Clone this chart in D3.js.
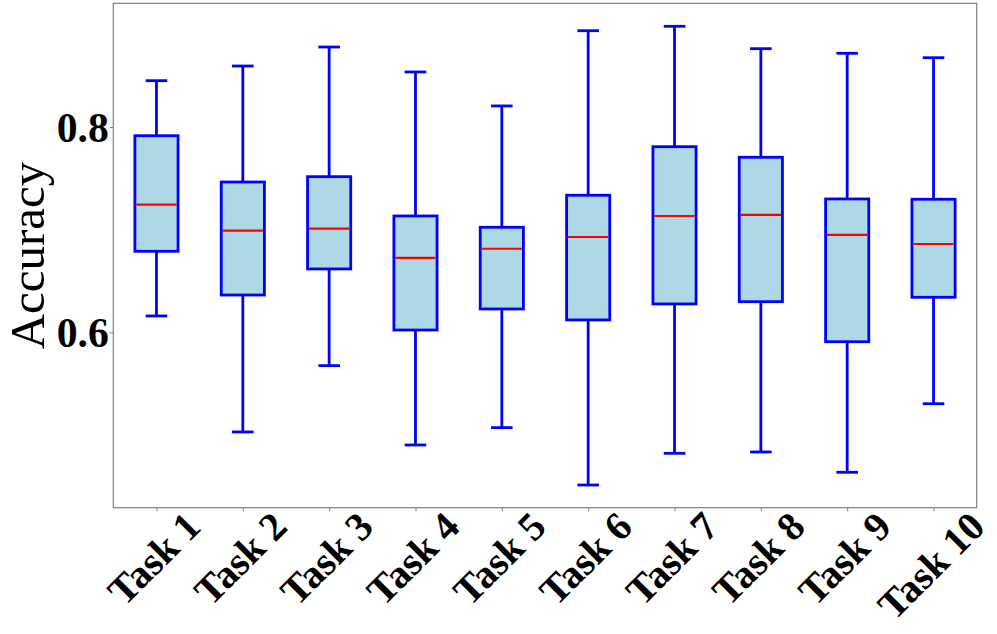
<!DOCTYPE html>
<html>
<head>
<meta charset="utf-8">
<script src="https://cdn.jsdelivr.net/npm/d3@7"></script>
<style>
body{margin:0;background:#fff}
svg{display:block}
</style>
</head>
<body>
<div id="chart"></div>
<script>
const tasks=["Task 1","Task 2","Task 3","Task 4","Task 5","Task 6","Task 7","Task 8","Task 9","Task 10"]
const whiskerLow=[0.6159,0.5029,0.5675,0.4902,0.5071,0.4512,0.4821,0.4834,0.4636,0.5304]
const q1=[0.6789,0.6363,0.6617,0.6022,0.6227,0.6120,0.6276,0.6298,0.5908,0.6341]
const medians=[0.7243,0.6990,0.7009,0.6724,0.6814,0.6928,0.7133,0.7143,0.6948,0.6860]
const q3=[0.7915,0.7464,0.7516,0.7133,0.7023,0.7335,0.7808,0.7705,0.7299,0.7296]
const whiskerHigh=[0.8451,0.8594,0.8779,0.8536,0.8205,0.8938,0.8981,0.8763,0.8718,0.8675]
const yTicks=[0.6,0.8]

const width=997,height=634
const plotLeft=113.3,plotRight=976.7,plotTop=3.3,plotBottom=507.7

const svg=d3.select("#chart").append("svg")
.attr("width",width)
.attr("height",height)

const x=d3.scaleLinear().domain([0.5,tasks.length+0.5]).range([plotLeft,plotRight])
const y=d3.scaleLinear().domain([0.4291,0.9205]).range([plotBottom,plotTop])

const serif="'Liberation Serif','Times New Roman',serif"

const boxes=tasks.map((t,i)=>({
pos:i+1,
lo:whiskerLow[i],
q1:q1[i],
med:medians[i],
q3:q3[i],
hi:whiskerHigh[i]
}))

const boxW=0.25,capW=0.125

const g=svg.append("g")

// whiskers
g.selectAll("line.wlo").data(boxes).enter().append("line")
.attr("x1",d=>x(d.pos)).attr("x2",d=>x(d.pos))
.attr("y1",d=>y(d.q1)).attr("y2",d=>y(d.lo))
.attr("stroke","#0000ff").attr("stroke-width",2.8)

g.selectAll("line.whi").data(boxes).enter().append("line")
.attr("x1",d=>x(d.pos)).attr("x2",d=>x(d.pos))
.attr("y1",d=>y(d.q3)).attr("y2",d=>y(d.hi))
.attr("stroke","#0000ff").attr("stroke-width",2.8)

// caps
g.selectAll("line.clo").data(boxes).enter().append("line")
.attr("x1",d=>x(d.pos-capW)).attr("x2",d=>x(d.pos+capW))
.attr("y1",d=>y(d.lo)).attr("y2",d=>y(d.lo))
.attr("stroke","#0000ff").attr("stroke-width",2.8)

g.selectAll("line.chi").data(boxes).enter().append("line")
.attr("x1",d=>x(d.pos-capW)).attr("x2",d=>x(d.pos+capW))
.attr("y1",d=>y(d.hi)).attr("y2",d=>y(d.hi))
.attr("stroke","#0000ff").attr("stroke-width",2.8)

// boxes
g.selectAll("rect").data(boxes).enter().append("rect")
.attr("x",d=>x(d.pos-boxW))
.attr("width",d=>x(d.pos+boxW)-x(d.pos-boxW))
.attr("y",d=>y(d.q3))
.attr("height",d=>y(d.q1)-y(d.q3))
.attr("fill","#add8e6")
.attr("stroke","#0000ff")
.attr("stroke-width",2.8)

// medians
g.selectAll("line.med").data(boxes).enter().append("line")
.attr("x1",d=>x(d.pos-boxW)+1.4).attr("x2",d=>x(d.pos+boxW)-1.4)
.attr("y1",d=>y(d.med)).attr("y2",d=>y(d.med))
.attr("stroke","#ff0000").attr("stroke-width",2.2)

// frame
svg.append("rect")
.attr("x",plotLeft).attr("y",plotTop)
.attr("width",plotRight-plotLeft).attr("height",plotBottom-plotTop)
.attr("fill","none").attr("stroke","#808080").attr("stroke-width",1.2)

// y axis
const yAxis=d3.axisLeft(y).tickValues(yTicks).tickFormat(d3.format(".1f")).tickSize(3.5).tickPadding(1)
const ya=svg.append("g").attr("transform","translate("+plotLeft+",0)").call(yAxis)
ya.select(".domain").remove()
ya.selectAll(".tick line").attr("stroke","#808080")
ya.selectAll(".tick text")
.attr("font-family",serif).attr("font-weight","bold").attr("font-size","41.7px").attr("fill","#000")
.attr("dy","0.34em")

// x axis
const xAxis=d3.axisBottom(x).tickValues(boxes.map(d=>d.pos)).tickFormat(d=>tasks[d-1]).tickSize(3.5)
const xa=svg.append("g").attr("transform","translate(0,"+plotBottom+")").call(xAxis)
xa.select(".domain").remove()
xa.selectAll(".tick line").attr("stroke","#808080")
const fs=40
xa.selectAll(".tick text")
.attr("font-family",serif).attr("font-weight","bold").attr("font-size",fs+"px").attr("fill","#000")
.attr("text-anchor","middle").attr("dominant-baseline","central")
.attr("y",null).attr("dy",null)
.each(function(){
const w=this.getComputedTextLength()
const cy=11.7+w*Math.SQRT1_2/2
d3.select(this).attr("transform","translate(-3,"+cy+") rotate(-45)")
})

// y label
svg.append("text")
.attr("transform","translate(44,"+((plotTop+plotBottom)/2)+") rotate(-90)")
.attr("text-anchor","middle")
.attr("font-family",serif).attr("font-size","49px").attr("fill","#000")
.text("Accuracy")
</script>
</body>
</html>
